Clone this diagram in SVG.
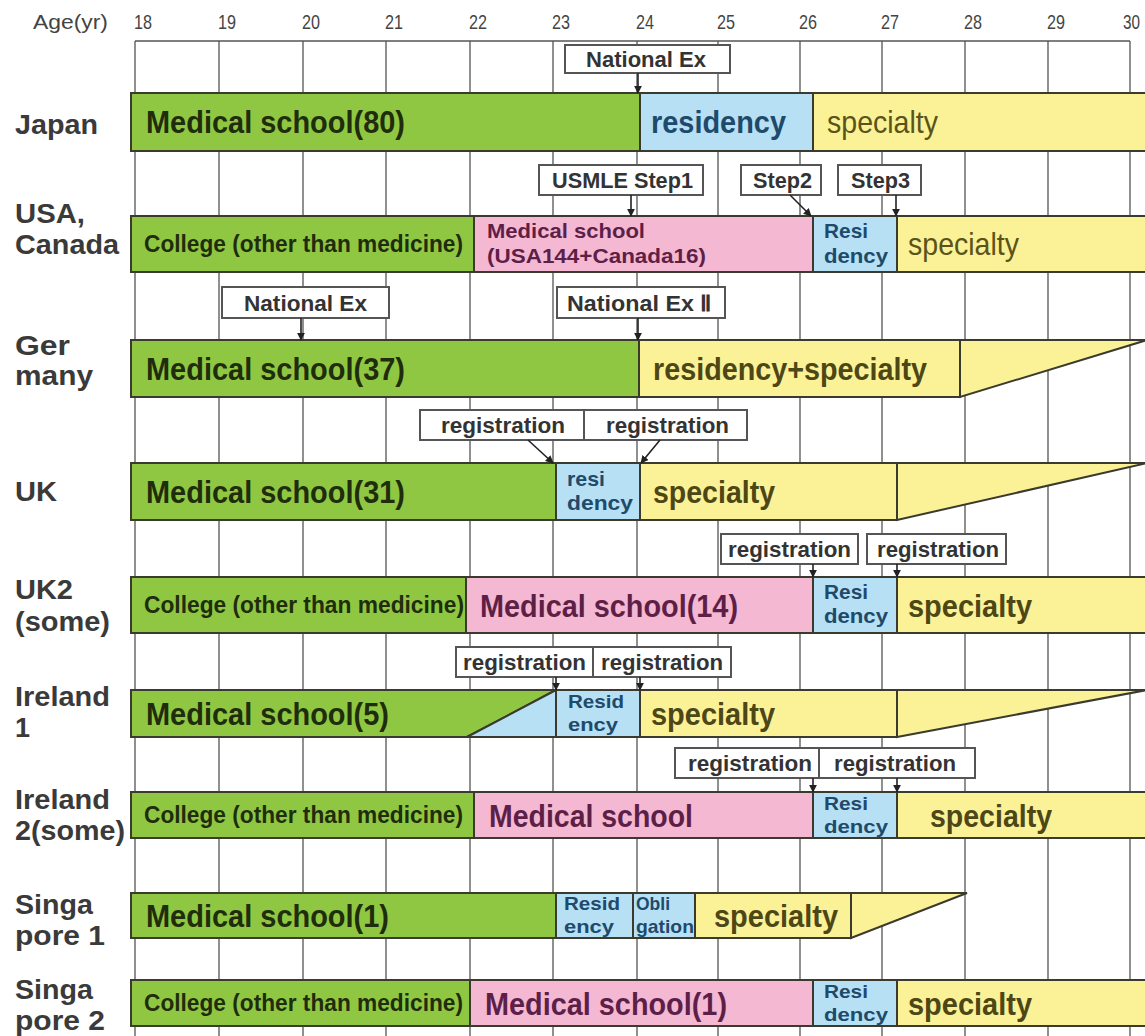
<svg xmlns="http://www.w3.org/2000/svg" width="1145" height="1036" viewBox="0 0 1145 1036">
<defs>
<marker id="ah" viewBox="0 0 10 10" refX="9" refY="5" markerWidth="8" markerHeight="8" orient="auto" markerUnits="userSpaceOnUse"><path d="M0,0 L10,5 L0,10 z" fill="#222"/></marker>
</defs>
<style>
text{font-family:"Liberation Sans Narrow","Liberation Sans",Arial,sans-serif}
.grid{stroke:#555;stroke-width:1.3;fill:none}
.bar{stroke:#3a3a2e;stroke-width:2}
.g{fill:#8fc743}.b{fill:#b7e0f4}.p{fill:#f5b8d3}.y{fill:#fbf298}
.tg{fill:#1f2d0c;font-weight:bold;font-size:32px}
.tgs{fill:#1f2d0c;font-weight:bold;font-size:23px}
.tb{fill:#1e4a6b;font-weight:bold;font-size:32px}
.tbs{fill:#1e4a6b;font-weight:bold;font-size:21px}
.tbx{fill:#1e4a6b;font-weight:bold;font-size:19px}
.tp{fill:#5e1f47;font-weight:bold;font-size:32px}
.tps{fill:#5e1f47;font-weight:bold;font-size:21px}
.ty{fill:#4d4715;font-weight:bold;font-size:32px}
.tyr{fill:#5a5418;font-size:32px}
.box{fill:#fff;stroke:#555;stroke-width:2}
.bt{fill:#333;font-weight:bold;font-size:22px}
.lbl{fill:#3a3a3a;font-weight:bold;font-size:27px}
.yr{fill:#444;font-size:21px}
.arr{stroke:#222;stroke-width:1.6;fill:none;marker-end:url(#ah)}
</style>
<rect x="0" y="0" width="1145" height="1036" fill="#fff"/>

<g id="axis">
<text class="yr" x="33" y="29" textLength="75" lengthAdjust="spacingAndGlyphs">Age(yr)</text>
<text class="yr" x="134" y="29" textLength="18" lengthAdjust="spacingAndGlyphs">18</text>
<text class="yr" x="218" y="29" textLength="18" lengthAdjust="spacingAndGlyphs">19</text>
<text class="yr" x="302" y="29" textLength="18" lengthAdjust="spacingAndGlyphs">20</text>
<text class="yr" x="385" y="29" textLength="18" lengthAdjust="spacingAndGlyphs">21</text>
<text class="yr" x="469" y="29" textLength="18" lengthAdjust="spacingAndGlyphs">22</text>
<text class="yr" x="552" y="29" textLength="18" lengthAdjust="spacingAndGlyphs">23</text>
<text class="yr" x="636" y="29" textLength="18" lengthAdjust="spacingAndGlyphs">24</text>
<text class="yr" x="717" y="29" textLength="18" lengthAdjust="spacingAndGlyphs">25</text>
<text class="yr" x="799" y="29" textLength="18" lengthAdjust="spacingAndGlyphs">26</text>
<text class="yr" x="881" y="29" textLength="18" lengthAdjust="spacingAndGlyphs">27</text>
<text class="yr" x="964" y="29" textLength="18" lengthAdjust="spacingAndGlyphs">28</text>
<text class="yr" x="1047" y="29" textLength="18" lengthAdjust="spacingAndGlyphs">29</text>
<text class="yr" x="1123" y="29" textLength="17" lengthAdjust="spacingAndGlyphs">30</text>
<path class="grid" d="M135,41H1130 M135,41V1036 M219,41V1036 M303,41V1036 M386,41V1036 M470,41V1036 M553,41V1036 M637,41V1036 M718,41V1036 M800,41V1036 M882,41V1036 M965,41V1036 M1048,41V1036 M1130,41V1036"/>
</g>

<g id="labels">
<text class="lbl" x="15" y="134" textLength="83" lengthAdjust="spacingAndGlyphs">Japan</text>
<text class="lbl" x="15" y="223" textLength="70" lengthAdjust="spacingAndGlyphs">USA,</text>
<text class="lbl" x="15" y="254" textLength="104" lengthAdjust="spacingAndGlyphs">Canada</text>
<text class="lbl" x="15" y="355" textLength="55" lengthAdjust="spacingAndGlyphs">Ger</text>
<text class="lbl" x="15" y="385" textLength="78" lengthAdjust="spacingAndGlyphs">many</text>
<text class="lbl" x="15" y="501" textLength="42" lengthAdjust="spacingAndGlyphs">UK</text>
<text class="lbl" x="15" y="599" textLength="58" lengthAdjust="spacingAndGlyphs">UK2</text>
<text class="lbl" x="15" y="631" textLength="95" lengthAdjust="spacingAndGlyphs">(some)</text>
<text class="lbl" x="15" y="706" textLength="95" lengthAdjust="spacingAndGlyphs">Ireland</text>
<text class="lbl" x="15" y="737">1</text>
<text class="lbl" x="15" y="809" textLength="95" lengthAdjust="spacingAndGlyphs">Ireland</text>
<text class="lbl" x="15" y="840" textLength="110" lengthAdjust="spacingAndGlyphs">2(some)</text>
<text class="lbl" x="15" y="914" textLength="78" lengthAdjust="spacingAndGlyphs">Singa</text>
<text class="lbl" x="15" y="945" textLength="90" lengthAdjust="spacingAndGlyphs">pore 1</text>
<text class="lbl" x="15" y="999" textLength="78" lengthAdjust="spacingAndGlyphs">Singa</text>
<text class="lbl" x="15" y="1030" textLength="90" lengthAdjust="spacingAndGlyphs">pore 2</text>
</g>

<g id="japan">
<rect class="bar g" x="131" y="93" width="509" height="58"/>
<rect class="bar b" x="640" y="93" width="173" height="58"/>
<rect class="bar y" x="813" y="93" width="340" height="58"/>
<text class="tg" x="146" y="133" textLength="259" lengthAdjust="spacingAndGlyphs">Medical school(80)</text>
<text class="tb" x="651" y="133" textLength="135" lengthAdjust="spacingAndGlyphs">residency</text>
<text class="tyr" x="827" y="133" textLength="111" lengthAdjust="spacingAndGlyphs">specialty</text>
</g>

<g id="usa">
<rect class="bar g" x="131" y="216" width="343" height="56"/>
<rect class="bar p" x="474" y="216" width="339" height="56"/>
<rect class="bar b" x="813" y="216" width="84" height="56"/>
<rect class="bar y" x="897" y="216" width="256" height="56"/>
<text class="tgs" x="144" y="252" textLength="319" lengthAdjust="spacingAndGlyphs">College (other than medicine)</text>
<text class="tps" x="487" y="238" textLength="158" lengthAdjust="spacingAndGlyphs">Medical school</text>
<text class="tps" x="487" y="263" textLength="219" lengthAdjust="spacingAndGlyphs">(USA144+Canada16)</text>
<text class="tbs" x="824" y="238" textLength="44" lengthAdjust="spacingAndGlyphs">Resi</text>
<text class="tbs" x="824" y="263" textLength="64" lengthAdjust="spacingAndGlyphs">dency</text>
<text class="tyr" x="908" y="255" textLength="111" lengthAdjust="spacingAndGlyphs">specialty</text>
</g>

<g id="germany">
<rect class="bar g" x="131" y="340" width="508" height="57"/>
<rect class="bar y" x="639" y="340" width="321" height="57"/>
<polygon class="bar y" points="960,340 1147,340 960,397"/>
<text class="tg" x="146" y="380" textLength="259" lengthAdjust="spacingAndGlyphs">Medical school(37)</text>
<text class="ty" x="653" y="380" textLength="274" lengthAdjust="spacingAndGlyphs">residency+specialty</text>
</g>

<g id="uk">
<rect class="bar g" x="131" y="463" width="425" height="57"/>
<rect class="bar b" x="556" y="463" width="84" height="57"/>
<rect class="bar y" x="640" y="463" width="257" height="57"/>
<polygon class="bar y" points="897,463 1147,463 897,520"/>
<text class="tg" x="146" y="503" textLength="259" lengthAdjust="spacingAndGlyphs">Medical school(31)</text>
<text class="tbs" x="567" y="486" textLength="38" lengthAdjust="spacingAndGlyphs">resi</text>
<text class="tbs" x="567" y="510" textLength="66" lengthAdjust="spacingAndGlyphs">dency</text>
<text class="ty" x="653" y="503" textLength="122" lengthAdjust="spacingAndGlyphs">specialty</text>
</g>

<g id="uk2">
<rect class="bar g" x="131" y="577" width="335" height="56"/>
<rect class="bar p" x="466" y="577" width="347" height="56"/>
<rect class="bar b" x="813" y="577" width="84" height="56"/>
<rect class="bar y" x="897" y="577" width="256" height="56"/>
<text class="tgs" x="144" y="613" textLength="320" lengthAdjust="spacingAndGlyphs">College (other than medicine)</text>
<text class="tp" x="480" y="617" textLength="258" lengthAdjust="spacingAndGlyphs">Medical school(14)</text>
<text class="tbs" x="824" y="599" textLength="44" lengthAdjust="spacingAndGlyphs">Resi</text>
<text class="tbs" x="824" y="623" textLength="64" lengthAdjust="spacingAndGlyphs">dency</text>
<text class="ty" x="908" y="617" textLength="124" lengthAdjust="spacingAndGlyphs">specialty</text>
</g>

<g id="ireland1">
<polygon class="bar g" points="131,690 556,690 467,737 131,737"/>
<polygon class="bar b" points="467,737 556,690 556,737"/>
<rect class="bar b" x="556" y="690" width="84" height="47"/>
<rect class="bar y" x="640" y="690" width="257" height="47"/>
<polygon class="bar y" points="897,690 1147,690 897,737"/>
<text class="tg" x="146" y="725" textLength="243" lengthAdjust="spacingAndGlyphs">Medical school(5)</text>
<text class="tbx" x="568" y="708" textLength="56" lengthAdjust="spacingAndGlyphs">Resid</text>
<text class="tbx" x="568" y="731" textLength="50" lengthAdjust="spacingAndGlyphs">ency</text>
<text class="ty" x="651" y="725" textLength="124" lengthAdjust="spacingAndGlyphs">specialty</text>
</g>

<g id="ireland2">
<rect class="bar g" x="131" y="792" width="343" height="46"/>
<rect class="bar p" x="474" y="792" width="339" height="46"/>
<rect class="bar b" x="813" y="792" width="84" height="46"/>
<rect class="bar y" x="897" y="792" width="256" height="46"/>
<text class="tgs" x="144" y="823" textLength="319" lengthAdjust="spacingAndGlyphs">College (other than medicine)</text>
<text class="tp" x="489" y="827" textLength="204" lengthAdjust="spacingAndGlyphs">Medical school</text>
<text class="tbx" x="824" y="810" textLength="44" lengthAdjust="spacingAndGlyphs">Resi</text>
<text class="tbx" x="824" y="833" textLength="64" lengthAdjust="spacingAndGlyphs">dency</text>
<text class="ty" x="930" y="827" textLength="122" lengthAdjust="spacingAndGlyphs">specialty</text>
</g>

<g id="singapore1">
<rect class="bar g" x="131" y="893" width="425" height="45"/>
<rect class="bar b" x="556" y="893" width="77" height="45"/>
<rect class="bar b" x="633" y="893" width="62" height="45"/>
<rect class="bar y" x="695" y="893" width="156" height="45"/>
<polygon class="bar y" points="851,893 967,893 851,938"/>
<text class="tg" x="146" y="927" textLength="243" lengthAdjust="spacingAndGlyphs">Medical school(1)</text>
<text class="tbx" x="564" y="910" textLength="56" lengthAdjust="spacingAndGlyphs">Resid</text>
<text class="tbx" x="564" y="933" textLength="50" lengthAdjust="spacingAndGlyphs">ency</text>
<text class="tbx" x="636" y="910" textLength="34" lengthAdjust="spacingAndGlyphs">Obli</text>
<text class="tbx" x="636" y="933" textLength="58" lengthAdjust="spacingAndGlyphs">gation</text>
<text class="ty" x="714" y="927" textLength="124" lengthAdjust="spacingAndGlyphs">specialty</text>
</g>

<g id="singapore2">
<rect class="bar g" x="131" y="980" width="339" height="46"/>
<rect class="bar p" x="470" y="980" width="343" height="46"/>
<rect class="bar b" x="813" y="980" width="84" height="46"/>
<rect class="bar y" x="897" y="980" width="256" height="46"/>
<text class="tgs" x="144" y="1011" textLength="319" lengthAdjust="spacingAndGlyphs">College (other than medicine)</text>
<text class="tp" x="485" y="1015" textLength="242" lengthAdjust="spacingAndGlyphs">Medical school(1)</text>
<text class="tbx" x="824" y="998" textLength="44" lengthAdjust="spacingAndGlyphs">Resi</text>
<text class="tbx" x="824" y="1021" textLength="64" lengthAdjust="spacingAndGlyphs">dency</text>
<text class="ty" x="908" y="1015" textLength="124" lengthAdjust="spacingAndGlyphs">specialty</text>
</g>

<g id="box-jp-natex"><rect class="box" x="565" y="45" width="165" height="28"/><text class="bt" x="586" y="67" textLength="120" lengthAdjust="spacingAndGlyphs">National Ex</text></g>
<g id="box-usmle1"><rect class="box" x="539" y="165" width="164" height="30"/><text class="bt" x="552" y="188" textLength="141" lengthAdjust="spacingAndGlyphs">USMLE Step1</text></g>
<g id="box-step2"><rect class="box" x="741" y="165" width="80" height="30"/><text class="bt" x="753" y="188" textLength="59" lengthAdjust="spacingAndGlyphs">Step2</text></g>
<g id="box-step3"><rect class="box" x="838" y="165" width="83" height="30"/><text class="bt" x="851" y="188" textLength="59" lengthAdjust="spacingAndGlyphs">Step3</text></g>
<g id="box-de-natex"><rect class="box" x="222" y="287" width="167" height="31"/><text class="bt" x="244" y="311" textLength="123" lengthAdjust="spacingAndGlyphs">National Ex</text></g>
<g id="box-de-natex2"><rect class="box" x="557" y="287" width="168" height="31"/><text class="bt" x="567" y="311" textLength="145" lengthAdjust="spacingAndGlyphs">National Ex Ⅱ</text></g>
<g id="box-uk-reg1"><rect class="box" x="420" y="410" width="164" height="30"/><text class="bt" x="441" y="433" textLength="124" lengthAdjust="spacingAndGlyphs">registration</text></g>
<g id="box-uk-reg2"><rect class="box" x="584" y="410" width="163" height="30"/><text class="bt" x="606" y="433" textLength="123" lengthAdjust="spacingAndGlyphs">registration</text></g>
<g id="box-uk2-reg1"><rect class="box" x="721" y="534" width="137" height="30"/><text class="bt" x="728" y="557" textLength="123" lengthAdjust="spacingAndGlyphs">registration</text></g>
<g id="box-uk2-reg2"><rect class="box" x="867" y="534" width="139" height="30"/><text class="bt" x="877" y="557" textLength="122" lengthAdjust="spacingAndGlyphs">registration</text></g>
<g id="box-ie1-reg1"><rect class="box" x="456" y="647" width="137" height="30"/><text class="bt" x="463" y="670" textLength="123" lengthAdjust="spacingAndGlyphs">registration</text></g>
<g id="box-ie1-reg2"><rect class="box" x="593" y="647" width="138" height="30"/><text class="bt" x="601" y="670" textLength="122" lengthAdjust="spacingAndGlyphs">registration</text></g>
<g id="box-ie2-reg1"><rect class="box" x="675" y="748" width="144" height="30"/><text class="bt" x="688" y="771" textLength="124" lengthAdjust="spacingAndGlyphs">registration</text></g>
<g id="box-ie2-reg2"><rect class="box" x="819" y="748" width="156" height="30"/><text class="bt" x="834" y="771" textLength="122" lengthAdjust="spacingAndGlyphs">registration</text></g>

<g id="connectors">
<path class="arr" d="M638,73V93"/>
<path class="arr" d="M631,195V216"/>
<path class="arr" d="M790,195L811,216"/>
<path class="arr" d="M896,195V216"/>
<path class="arr" d="M301,318V340"/>
<path class="arr" d="M638,318V340"/>
<path class="arr" d="M528,440L553,463"/>
<path class="arr" d="M660,440L641,463"/>
<path class="arr" d="M813,564V577"/>
<path class="arr" d="M897,564V577"/>
<path class="arr" d="M556,677V690"/>
<path class="arr" d="M640,677V690"/>
<path class="arr" d="M813,778V792"/>
<path class="arr" d="M897,778V792"/>
</g>
</svg>
